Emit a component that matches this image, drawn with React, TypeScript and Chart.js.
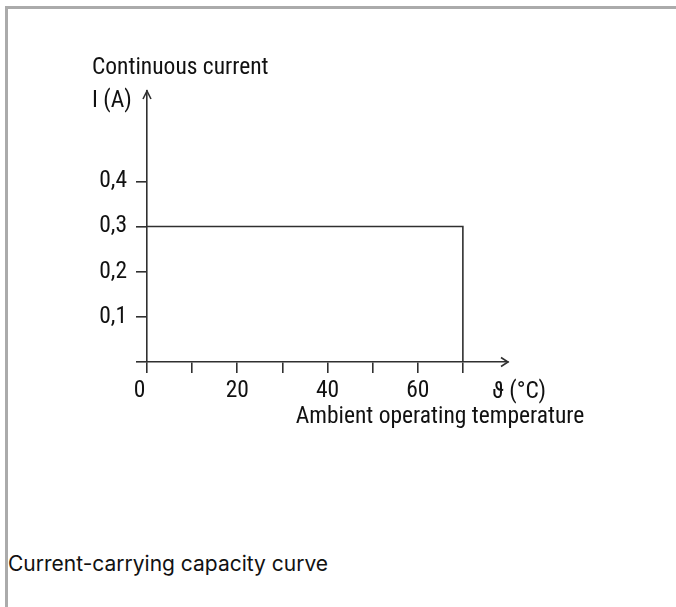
import React, { useEffect, useRef } from 'react';
import { Chart, registerables } from 'chart.js';
Chart.register(...registerables);

const temperatures = [0, 70, 70];
const currents = [0.3, 0.3, 0];
const xTickValues = [0, 10, 20, 30, 40, 50, 60, 70];
const xTickLabels = ['0\u2002\u2009', '', '20', '', '40', '', '60', ''];
const yTickValues = [0, 0.1, 0.2, 0.3, 0.4];
const yTickLabels = ['', '0,1', '0,2', '0,3', '0,4'];

const FONT = "'Roboto Condensed', Roboto, sans-serif";
const INK = '#303030';

export default function App() {
  const ref = useRef<HTMLCanvasElement>(null);
  useEffect(() => {
    if (!ref.current) return;
    const deco = {
      id: 'deco',
      afterDraw(chart: any) {
        const { ctx, chartArea: a } = chart;
        const xs = chart.scales.x;
        const ys = chart.scales.y;
        ctx.save();
        ctx.strokeStyle = INK;
        ctx.lineWidth = 1.6;
        ctx.beginPath();
        const x0 = xs.getPixelForValue(0);
        ctx.moveTo(x0 - 4, a.top + 8);
        ctx.lineTo(x0, a.top);
        ctx.lineTo(x0 + 4, a.top + 8);
        const y0 = ys.getPixelForValue(0);
        ctx.moveTo(a.right - 7, y0 - 4.5);
        ctx.lineTo(a.right, y0);
        ctx.lineTo(a.right - 7, y0 + 4.5);
        ctx.stroke();
        ctx.fillStyle = '#111';
        ctx.font = `23.5px ${FONT}`;
        ctx.textBaseline = 'alphabetic';
        ctx.textAlign = 'left';
        ctx.fillText('Continuous current', 84, 65);
        ctx.fillText('I (A)', 84, 98);
        ctx.textAlign = 'center';
        ctx.fillText('\u03D1 (\u00B0C)', xs.getPixelForValue(80) + 11, y0 + 36);
        ctx.fillText('Ambient operating temperature', 432, y0 + 61);
        ctx.restore();
      },
    };
    const chart = new Chart(ref.current, {
      type: 'scatter',
      data: {
        datasets: [
          {
            data: temperatures.map((t, i) => ({ x: t, y: currents[i] })),
            showLine: true,
            borderColor: INK,
            borderWidth: 1.6,
            pointRadius: 0,
            tension: 0,
          },
        ],
      },
      options: {
        animation: false,
        responsive: false,
        layout: { padding: { top: 82, right: 168, left: 0, bottom: 0 } },
        plugins: { legend: { display: false }, tooltip: { enabled: false } },
        scales: {
          x: {
            type: 'linear',
            min: 0,
            max: 80,
            afterFit: (s: any) => { s.height = 121; },
            afterBuildTicks: (s: any) => { s.ticks = xTickValues.map((v) => ({ value: v })); },
            ticks: {
              callback: (_v: any, i: number) => xTickLabels[i],
              font: { family: FONT, size: 23.5 },
              color: '#111',
              padding: 4,
              maxRotation: 0,
              autoSkip: false,
            },
            grid: { drawOnChartArea: false, drawTicks: true, tickLength: 11, color: INK, lineWidth: 1.6 },
            border: { display: true, color: INK, width: 1.6 },
          },
          y: {
            type: 'linear',
            min: 0,
            max: 0.6,
            afterFit: (s: any) => { s.width = 139; },
            afterBuildTicks: (s: any) => { s.ticks = yTickValues.map((v) => ({ value: v })); },
            ticks: {
              callback: (_v: any, i: number) => yTickLabels[i],
              font: { family: FONT, size: 23.5 },
              color: '#111',
              padding: 9,
              autoSkip: false,
            },
            grid: { drawOnChartArea: false, drawTicks: true, tickLength: 11, color: INK, lineWidth: 1.6 },
            border: { display: true, color: INK, width: 1.6 },
          },
        },
      },
      plugins: [deco],
    });
    return () => chart.destroy();
  }, []);
  return (
    <div style={{ position: 'absolute', left: 0, top: 0, width: 676, height: 607, overflow: 'hidden', background: '#fff' }}>
      <div style={{ position: 'absolute', left: 5, top: 6, width: 700, height: 620, borderTop: '3px solid #ababab', borderLeft: '3px solid #ababab', boxSizing: 'border-box' }} />
      <canvas ref={ref} width={668} height={474} style={{ position: 'absolute', left: 8, top: 9, width: 668, height: 474 }} />
      <div style={{ position: 'absolute', left: 8, top: 551, fontFamily: "Inter, sans-serif", fontSize: 21, color: '#111', whiteSpace: 'nowrap' }}>Current-carrying capacity curve</div>
    </div>
  );
}
